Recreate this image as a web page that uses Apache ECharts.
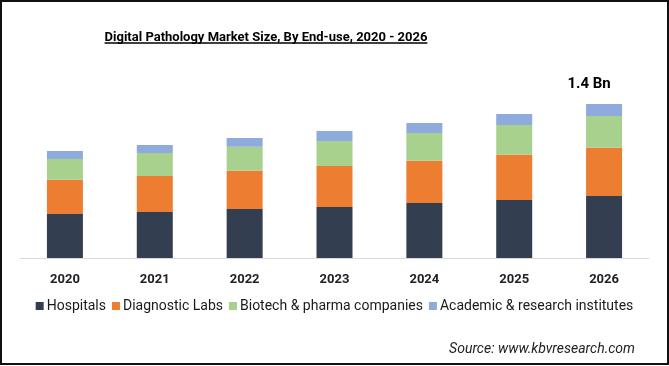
<!DOCTYPE html>
<html>
<head>
<meta charset="utf-8">
<script src="https://cdn.jsdelivr.net/npm/echarts@6/dist/echarts.min.js"></script>
<style>
html,body{margin:0;padding:0;background:#fff;}
#chart{width:669px;height:366px;}
</style>
</head>
<body>
<div id="chart"></div>
<script>
var years = ['2020','2021','2022','2023','2024','2025','2026'];
var hospitals = [0.400, 0.418, 0.445, 0.464, 0.500, 0.527, 0.564];
var diagnosticLabs = [0.312, 0.327, 0.348, 0.373, 0.385, 0.412, 0.439];
var biotechPharma = [0.188, 0.209, 0.218, 0.227, 0.252, 0.270, 0.288];
var academicResearch = [0.073, 0.073, 0.079, 0.091, 0.091, 0.100, 0.109];
var seriesNames = ['Hospitals','Diagnostic Labs','Biotech & pharma companies','Academic & research institutes'];
var colors = ['#333F50','#ED7D31','#A9D18E','#8FAADC'];
var titleText = 'Digital Pathology Market Size, By End-use, 2020 - 2026';
var sourceText = 'Source: www.kbvresearch.com';
var lastLabel = '1.4 Bn';

var FONT = "'Roboto','Liberation Sans',sans-serif";
var titleSize = 13;
var cv = document.createElement('canvas').getContext('2d');
cv.font = 'bold ' + titleSize + 'px ' + FONT;
var titleW = cv.measureText(titleText).width;
var titleLeft = 266 - titleW / 2;

var chart = echarts.init(document.getElementById('chart'), null, {renderer:'canvas'});
var allData = [hospitals, diagnosticLabs, biotechPharma, academicResearch];
var series = allData.map(function(d, i){
  var s = {
    name: seriesNames[i], type: 'bar', stack: 'total', data: d.slice(),
    barWidth: 36, itemStyle: {color: colors[i]}
  };
  if (i === 3) {
    s.data = d.map(function(v, j){
      if (j === d.length - 1) {
        return {value: v, label: {show: true, position: 'top', distance: 12, offset: [-15, 0],
          formatter: lastLabel, fontFamily: FONT, fontWeight: 'bold', fontSize: 15, color: '#000'}};
      }
      return v;
    });
  }
  return s;
});

chart.setOption({
  animation: false,
  color: colors,
  title: [
    {text: titleText, left: titleLeft, top: 31, padding: 0,
     textStyle: {fontFamily: FONT, fontWeight: 'bold', fontSize: titleSize, color: '#000'}},
    {text: sourceText, right: 34, top: 342, padding: 0,
     textStyle: {fontFamily: FONT, fontStyle: 'italic', fontWeight: 'normal', fontSize: 14, color: '#222'}}
  ],
  legend: {
    data: seriesNames, left: 'center', top: 299, icon: 'rect', itemWidth: 8, itemHeight: 8,
    itemGap: 6, padding: 0,
    textStyle: {fontFamily: FONT, fontSize: 14, color: '#1a1a1a', padding: [0,0,0,-2]}
  },
  grid: {left: 20, right: 20, top: 82, bottom: 108, containLabel: false},
  xAxis: {
    type: 'category', data: years,
    axisLine: {lineStyle: {color: '#D9D9D9', width: 1}},
    axisTick: {show: false},
    axisLabel: {fontFamily: FONT, fontWeight: 'bold', fontSize: 13, color: '#222', margin: 15}
  },
  yAxis: {type: 'value', min: 0, max: 1.6, show: false, splitLine: {show: false}},
  series: series,
  graphic: [
    {type: 'line', shape: {x1: titleLeft, y1: 43, x2: titleLeft + titleW, y2: 43},
     style: {stroke: '#000', lineWidth: 1.5}, silent: true},
    {type: 'rect', shape: {x: 1, y: 1, width: 667, height: 363},
     style: {fill: 'none', stroke: '#111', lineWidth: 2}, silent: true}
  ]
});
</script>
</body>
</html>
